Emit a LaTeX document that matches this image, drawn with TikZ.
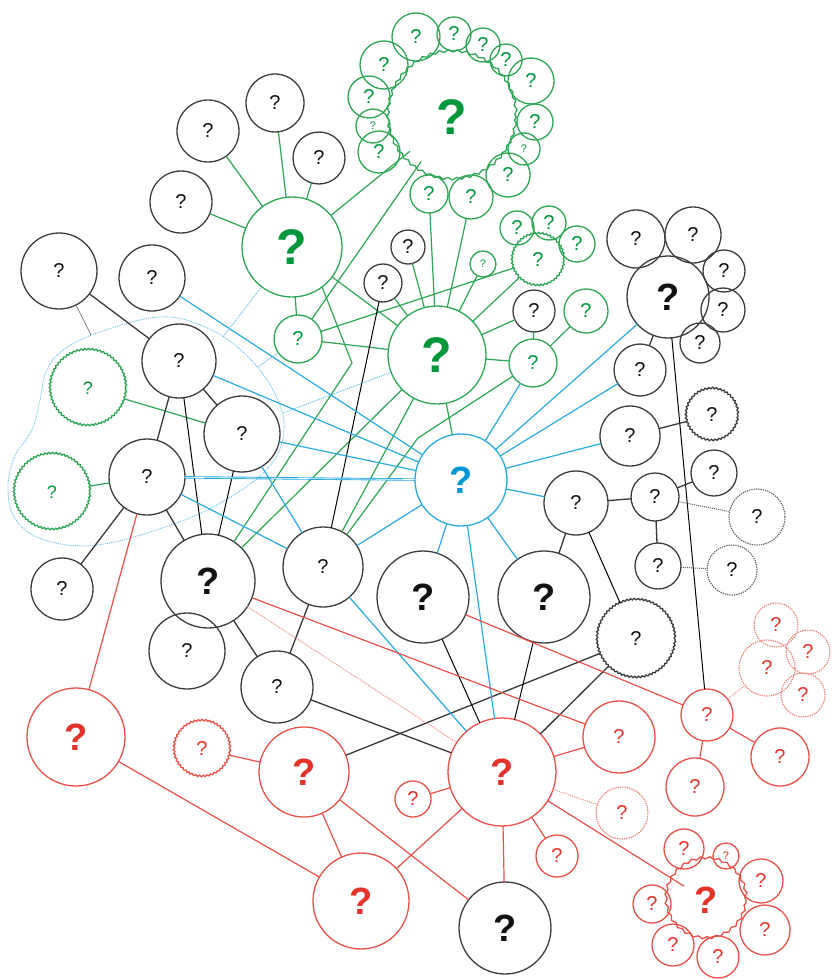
\documentclass[tikz,border=0pt]{standalone}
\usepackage{fontspec}
\setmainfont{Liberation Sans}
\usetikzlibrary{decorations.pathmorphing}
\definecolor{kline}{RGB}{60,60,60}
\definecolor{ktext}{RGB}{17,17,17}
\definecolor{kedge}{RGB}{55,55,55}
\definecolor{gline}{RGB}{44,166,84}
\definecolor{gtext}{RGB}{0,150,60}
\definecolor{bline}{RGB}{41,171,226}
\definecolor{btext}{RGB}{0,150,214}
\definecolor{rline}{RGB}{232,80,72}
\definecolor{rtext}{RGB}{227,50,42}
\definecolor{rdot}{RGB}{238,120,112}
\definecolor{rdotline}{RGB}{242,140,135}
\definecolor{kdot}{RGB}{90,90,90}
\definecolor{bdotc}{RGB}{100,190,235}
\begin{document}
\begin{tikzpicture}[x=1pt,y=-1pt,
  nd/.style={circle, draw, inner sep=0pt, outer sep=0pt, line width=1.3pt, minimum size=#1*2pt},
  bk/.style={nd=#1, draw=kline, text=ktext},
  gk/.style={nd=#1, draw=gline, text=gtext},
  rk/.style={nd=#1, draw=rline, text=rtext},
  bu/.style={nd=#1, draw=bline, text=btext},
  wavy/.style={decorate, decoration={snake, amplitude=0.75pt, segment length=3.8pt}},
  wavybig/.style={decorate, decoration={snake, amplitude=1.2pt, segment length=9pt}},
  kdotted/.style={densely dotted, draw=kdot, line width=1.1pt},
  rdotted/.style={densely dotted, draw=rdot, line width=1.1pt},
  qs/.style={font=\fontsize{11}{11}\selectfont},
  qm/.style={font=\fontsize{20}{20}\selectfont},
  qw/.style={font=\fontsize{18}{18}\selectfont},
  ql/.style={font=\fontsize{38}{38}\selectfont\bfseries},
  qx/.style={font=\fontsize{50}{50}\selectfont\bfseries},
  ke/.style={draw=kedge, line width=1.3pt},
  kt/.style={draw=black, line width=1pt},
  ge/.style={draw=gline, line width=1.2pt},
  be/.style={draw=bline, line width=1.2pt},
  re/.style={draw=rline, line width=1.2pt},
  bdot/.style={draw=bdotc, densely dotted, line width=1pt},
  rdl/.style={draw=rdotline, densely dotted, line width=1pt},
  kdl/.style={draw=kdot, densely dotted, line width=1pt},
  gray thin/.style={draw=gray, line width=0.8pt}
]
\useasboundingbox (0,0) rectangle (831,979);

% blob
\draw[bdotc, densely dotted, line width=0.9pt] plot[smooth cycle, tension=0.65] coordinates {
 (8,490) (14,458) (32,430) (40,400) (46,372) (62,351) (100,332) (160,317) (205,327)
 (243,352) (273,390) (284,430) (268,468) (222,502) (168,526) (97,545) (45,540) (16,520)};
\coordinate (bA) at (223,337);
\coordinate (bB) at (283,413);
\coordinate (bC) at (258,367);
\coordinate (bD) at (91,335);

% black nodes
\node[bk=31, qm] (k1) at (208,131) {?};
\node[bk=29, qm] (k2) at (275,103) {?};
\node[bk=26, qm] (k3) at (319,158) {?};
\node[bk=31, qm] (k4) at (181,202) {?};
\node[bk=38, qm] (k5) at (59,271) {?};
\node[bk=33, qm] (k6) at (152,278) {?};
\node[bk=17, qm] (k7) at (408,247) {?};
\node[bk=19, qm] (k8) at (383,283) {?};
\node[bk=21, qm] (k9) at (534,311) {?};
\node[bk=29, qm] (k10) at (636,239) {?};
\node[bk=28, qm] (k11) at (693,235) {?};
\node[bk=21, qm] (k12) at (724,271) {?};
\node[bk=22, qm] (k13) at (723,310) {?};
\node[bk=41, ql] (K14) at (668,297) {?};
\node[bk=20, qm] (k15) at (700,343) {?};
\node[bk=26, qm] (k16) at (640,370) {?};
\node[bk=30, qm] (k17) at (630,436) {?};
\node[bk=26, qm, wavy] (k18) at (712,415) {?};
\node[bk=32, qm] (k19) at (576,503) {?};
\node[bk=24, qm] (k20) at (655,497) {?};
\node[bk=23, qm] (k21) at (714,473) {?};
\node[bk=28, qm, kdotted] (k22) at (757,517) {?};
\node[bk=23, qm] (k23) at (658,566) {?};
\node[bk=25, qm, kdotted] (k24) at (732,570) {?};
\node[bk=46, ql] (K25) at (423,597) {?};
\node[bk=46, ql] (K26) at (544,597) {?};
\node[bk=39, qm, wavy] (k27) at (636,639) {?};
\node[bk=46, ql] (K28) at (505,928) {?};
\node[bk=37, qm] (k29) at (179,361) {?};
\node[bk=38, qm] (k30) at (242,434) {?};
\node[bk=38, qm] (k31) at (147,477) {?};
\node[bk=47, ql] (K32) at (208,581) {?};
\node[bk=40, qm] (k33) at (323,567) {?};
\node[bk=31, qm] (k34) at (62,589) {?};
\node[bk=38, qm] (k35) at (187,651) {?};
\node[bk=36, qm] (k36) at (277,687) {?};

% green nodes
\node[gk=50, qx] (G1) at (292,247) {?};
\node[gk=49, qx] (G2) at (437,355) {?};
\node[gk=64, qx, wavybig] (R) at (452,117) {?};
\node[gk=24, qm] (s1) at (416,37) {?};
\node[gk=17, qm] (s2) at (454,34) {?};
\node[gk=17, qm] (s3) at (483,45) {?};
\node[gk=16, qm] (s4) at (506,60) {?};
\node[gk=23, qm] (s5) at (531,81) {?};
\node[gk=18, qm] (s6) at (535,122) {?};
\node[gk=16, qs] (s7) at (524,149) {?};
\node[gk=22, qm] (s8) at (508,175) {?};
\node[gk=22, qm] (s9) at (471,197) {?};
\node[gk=19, qm] (s10) at (429,194) {?};
\node[gk=21, qm] (s11) at (379,152) {?};
\node[gk=17, qs] (s12) at (373,126) {?};
\node[gk=21, qm] (s13) at (369,97) {?};
\node[gk=24, qm] (s14) at (384,65) {?};
\node[gk=24, qm] (g1) at (298,339) {?};
\node[gk=26, qm, wavy] (gw1) at (538,260) {?};
\node[gk=17, qm] (g2) at (517,228) {?};
\node[gk=17, qm] (g3) at (549,223) {?};
\node[gk=18, qm] (g4) at (577,244) {?};
\node[gk=13, qs] (g5) at (483,264) {?};
\node[gk=22, qm] (g6) at (586,311) {?};
\node[gk=24, qm] (g7) at (533,363) {?};
\node[gk=38, qw, wavy] (gw2) at (88,388) {?};
\node[gk=38, qw, wavy] (gw3) at (52,492) {?};

% blue node
\node[bu=46, ql] (B) at (461,480) {?};

% red nodes
\node[rk=49, ql] (r1) at (76,737) {?};
\node[rk=28, qm, wavy] (rw1) at (202,749) {?};
\node[rk=45, ql] (r2) at (304,772) {?};
\node[rk=48, ql] (r3) at (361,901) {?};
\node[rk=54, ql] (R4) at (502,772) {?};
\node[rk=18, qm] (r5) at (413,799) {?};
\node[rk=21, qm] (r6) at (557,856) {?};
\node[rk=36, qm] (r7) at (619,737) {?};
\node[rk=26, qm, rdotted] (rd1) at (622,813) {?};
\node[rk=26, qm] (r8) at (707,715) {?};
\node[rk=29, qm] (r9) at (780,757) {?};
\node[rk=29, qm] (r10) at (695,787) {?};
\node[rk=22, qm, rdotted] (rd2) at (776,625) {?};
\node[rk=22, qm, rdotted] (rd3) at (808,652) {?};
\node[rk=28, qm, rdotted] (rd4) at (767,668) {?};
\node[rk=22, qm, rdotted] (rd5) at (803,695) {?};
\node[rk=40, ql, wavybig] (rw2) at (706,900) {?};
\node[rk=20, qm] (t1) at (684,849) {?};
\node[rk=13, qs] (t2) at (726,856) {?};
\node[rk=22, qm] (t3) at (761,881) {?};
\node[rk=25, qm] (t4) at (765,930) {?};
\node[rk=21, qm] (t5) at (718,957) {?};
\node[rk=21, qm] (t6) at (673,945) {?};
\node[rk=19, qm] (t7) at (652,904) {?};

\coordinate (bend1) at (352,363);
\coordinate (bend2) at (418,438);

% green edges
\draw[ge] (G1) -- (k1);
\draw[ge] (G1) -- (k2);
\draw[ge] (G1) -- (k3);
\draw[ge] (G1) -- (k4);
\draw[ge, shorten >=-10pt] (G1) -- (R);
\draw[ge, shorten >=-10pt] (g1) -- (R);
\draw[ge] (G1) -- (g1);
\draw[ge] (G1) -- (G2);
\draw[ge] (G1.-53) -- (bend1) -- (K32);
\draw[ge] (g1) -- (gw1);
\draw[ge] (g1) -- (G2);
\draw[ge] (G2) -- (K32);
\draw[ge] (G2) -- (k33);
\draw[ge] (g7) -- (bend2) -- (k33);
\draw[ge] (G2) -- (k7);
\draw[ge] (G2) -- (k8);
\draw[ge] (G2) -- (s10);
\draw[ge] (G2) -- (s9);
\draw[ge] (G2) -- (g5);
\draw[ge] (G2) -- (gw1);
\draw[ge] (G2) -- (g7);
\draw[ge] (G2) -- (k9);
\draw[ge] (G2) -- (B);
\draw[ge] (g7) -- (k9);
\draw[ge] (g7) -- (g6);
\draw[ge] (gw2) -- (k30);
\draw[ge] (gw3) -- (k31);

% black edges
\draw[ke] (k5) -- (k29);
\draw[ke] (k29) -- (k30);
\draw[ke] (k29) -- (k31);
\draw[kt] (k29) -- (K32);
\draw[kt] (k30) -- (K32);
\draw[ke] (k31) -- (K32);
\draw[ke] (k31) -- (k34);
\draw[ke] (K32) -- (k36);
\draw[ke] (k33) -- (k36);
\draw[kt] (k8) -- (k33);
\draw[ke] (K14) -- (k16);
\draw[kt] (K14) -- (r8);
\draw[ke] (k17) -- (k18);
\draw[ke] (k19) -- (k20);
\draw[ke] (k19) -- (K26);
\draw[kt] (k19) -- (k27);
\draw[ke] (k20) -- (k21);
\draw[kdl] (k20) -- (k22);
\draw[ke] (k20) -- (k23);
\draw[kdl] (k23) -- (k24);
\draw[ke] (k36) -- (R4);
\draw[ke] (r2) -- (k27);
\draw[kt] (K25) -- (R4);
\draw[kt] (K26) -- (R4);
\draw[ke] (k27) -- (R4);

% blue edges
\draw[be] (B) -- (k6);
\draw[be] (B) -- (k29);
\draw[be] (B) -- (k30);
\draw[be, double=white, double distance=0.6pt, line width=0.9pt] (B) -- (k31);
\draw[be] (B) -- (k33);
\draw[be] (B) -- (R4);
\draw[be] (B) -- (K25);
\draw[be] (B) -- (K26);
\draw[be] (B) -- (k19);
\draw[be] (B) -- (k17);
\draw[be] (B) -- (k16);
\draw[be] (B) -- (K14);
\draw[be] (B) -- (g7);
\draw[be] (k31) -- (k33);
\draw[be] (k30) -- (k33);
\draw[be] (k33) -- (R4);

% red edges
\draw[re] (k31) -- (r1);
\draw[re] (K32) -- (r7);
\draw[rdl] (K32) -- (R4);
\draw[re] (K25) -- (r8);
\draw[re] (R4) -- (r7);
\draw[re] (R4) -- (r5);
\draw[rdl] (R4) -- (rd1);
\draw[re] (R4) -- (r6);
\draw[re] (R4) -- (K28);
\draw[re, shorten >=-14pt] (R4) -- (rw2);
\draw[re] (R4) -- (r3);
\draw[re] (r2) -- (K28);
\draw[re] (r2) -- (r3);
\draw[re] (r2) -- (rw1);
\draw[re] (r1) -- (r3);
\draw[re] (r8) -- (r9);
\draw[re] (r8) -- (r10);
\draw[rdl] (r8) -- (rd4);

% dotted links to the blob
\draw[bdot] (G1) -- (bA);
\draw[bdot] (G2) -- (bB);
\draw[bdot] (g1) -- (bC);
\draw[gray thin] (k5) -- (bD);
\end{tikzpicture}
\end{document}
